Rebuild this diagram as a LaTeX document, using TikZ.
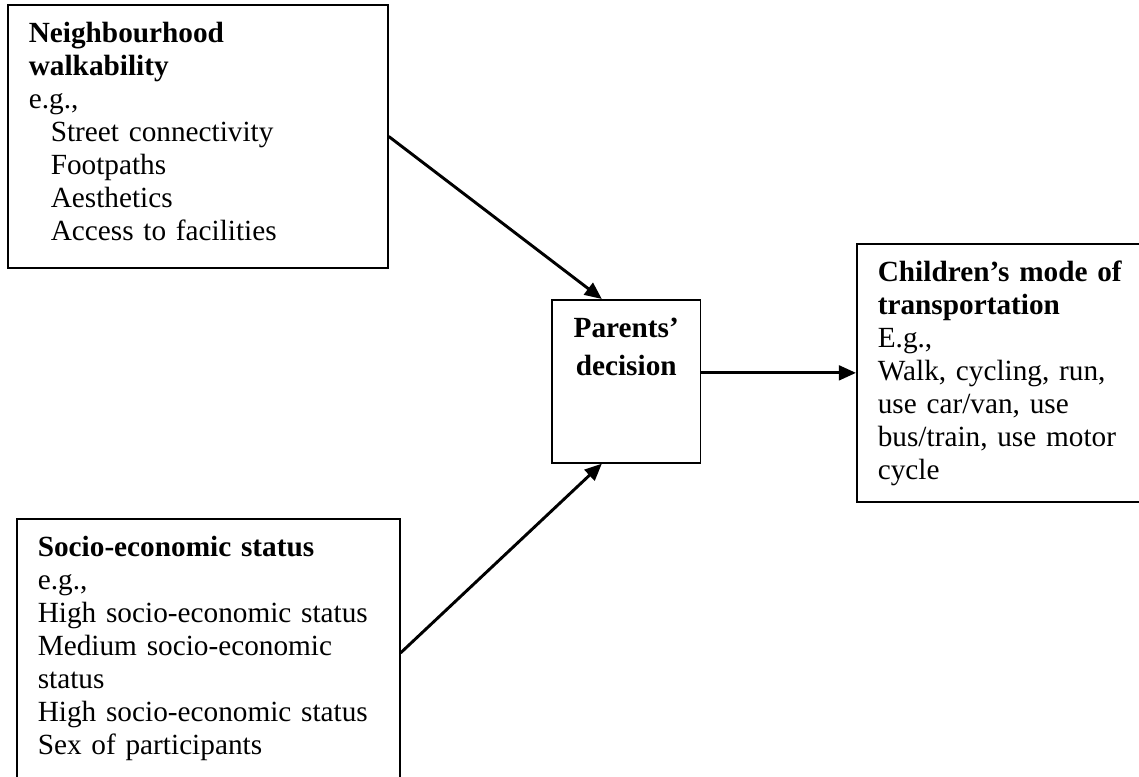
\documentclass[tikz,border=0pt]{standalone}
\usepackage{fontspec}
\setmainfont{Liberation Serif}
\usetikzlibrary{arrows.meta}
\begin{document}
\begin{tikzpicture}[x=0.41pt,y=0.41pt,
  box/.style={draw,line width=0.7pt,anchor=north west,align=left,
    inner xsep=8.6pt,inner ysep=5.6pt,text height=10pt,
    font=\fontsize{12}{13.5}\selectfont},
  link/.style={-{Triangle[length=7pt,width=6pt]},line width=1.2pt}]
\useasboundingbox (0,0) rectangle (1139,-777);
\node[box,text width=138.6pt,text depth=86.7pt] (walk) at (7,-4) {\textbf{Neighbourhood}\\\textbf{walkability}\\e.g.,\\\hspace*{9pt}Street connectivity\\\hspace*{9pt}Footpaths\\\hspace*{9pt}Aesthetics\\\hspace*{9pt}Access to facilities};
\node[box,align=center,text width=51pt,inner xsep=5pt,text depth=45.6pt,font=\fontsize{12}{15.6}\selectfont\bfseries] (parents) at (551,-299) {Parents’\\decision};
\node[box,text width=112pt,text depth=84.6pt] (kids) at (856,-243) {\textbf{Children’s mode of}\\\textbf{transportation}\\E.g.,\\Walk, cycling, run,\\use car/van, use\\bus/train, use motor\\cycle};
\node[box,text width=139.8pt,text depth=88.7pt] (ses) at (16,-518) {\textbf{Socio-economic status}\\e.g.,\\High socio-economic status\\Medium socio-economic\\status\\High socio-economic status\\Sex of participants};
\draw[link] (walk.east) -- ([xshift=-10pt]parents.north);
\draw[link] (ses.east) -- ([xshift=-10pt]parents.south);
\draw[link] (parents.east |- kids.west) -- (kids.west);
\end{tikzpicture}
\end{document}
